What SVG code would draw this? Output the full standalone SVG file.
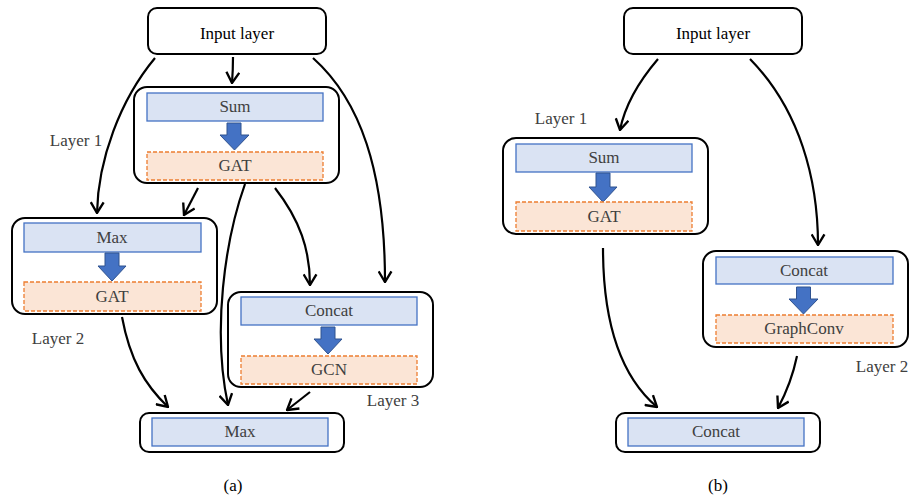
<svg xmlns="http://www.w3.org/2000/svg" width="909" height="498" viewBox="0 0 909 498">
<style>
text{font-family:'Liberation Serif','DejaVu Serif','Times New Roman',serif;font-size:17px;text-anchor:middle}
.c{fill:#fff;stroke:#000;stroke-width:2}
.b{fill:#DAE3F3;stroke:#4472C4;stroke-width:1.3}
.o{fill:#FBE5D6;stroke:#ED7D31;stroke-width:1.3;stroke-dasharray:4 2}
.ar{fill:#4472C4;stroke:#2F528F;stroke-width:1}
.t{fill:#404040}
.k{fill:#000}
.e{fill:none;stroke:#000;stroke-width:2.2;marker-end:url(#h)}
</style>
<defs>
<marker id="h" markerUnits="userSpaceOnUse" viewBox="0 0 12 14" refX="11" refY="7" markerWidth="13" markerHeight="15" orient="auto">
<path d="M1,1 L11,7 L1,13" fill="none" stroke="#000" stroke-width="2.2"/>
</marker>
</defs>
<g id="a-input"><rect class="c" x="148" y="8" width="178" height="46" rx="9"/><text class="k" x="237" y="39" font-family="Liberation Serif, serif">Input layer</text></g>
<g id="a-layer1"><rect class="c" x="134" y="87" width="205" height="96" rx="13"/>
<rect class="b" x="147" y="93" width="176" height="28"/><text class="t" x="235" y="112">Sum</text>
<polygon class="ar" points="227,123 241,123 241,135 249,135 234.5,150 220,135 227,135"/>
<rect class="o" x="147" y="152" width="176" height="28"/><text class="t" x="235" y="171">GAT</text></g>
<g id="a-layer2"><rect class="c" x="12" y="218" width="205" height="96" rx="13"/>
<rect class="b" x="24" y="223" width="177" height="29"/><text class="t" x="112" y="243">Max</text>
<polygon class="ar" points="105,253 119,253 119,266 126,266 112,281 98,266 105,266"/>
<rect class="o" x="24" y="282" width="177" height="29"/><text class="t" x="112" y="302">GAT</text></g>
<g id="a-layer3"><rect class="c" x="228" y="292" width="205" height="95" rx="13"/>
<rect class="b" x="241" y="297" width="176" height="28"/><text class="t" x="329" y="316">Concat</text>
<polygon class="ar" points="321,327 335,327 335,339 342,339 328,354 314,339 321,339"/>
<rect class="o" x="241" y="356" width="176" height="28"/><text class="t" x="329" y="375">GCN</text></g>
<g id="a-out"><rect class="c" x="140" y="413" width="204" height="39" rx="9"/>
<rect class="b" x="152" y="418" width="176" height="28"/><text class="t" x="240" y="437">Max</text></g>
<g id="b-input"><rect class="c" x="624" y="8" width="178" height="46" rx="9"/><text class="k" x="713" y="39">Input layer</text></g>
<g id="b-layer1"><rect class="c" x="503" y="138" width="205" height="96" rx="13"/>
<rect class="b" x="516" y="144" width="176" height="28"/><text class="t" x="604" y="163">Sum</text>
<polygon class="ar" points="596,173 610,173 610,187 617,187 603,202 589,187 596,187"/>
<rect class="o" x="516" y="202" width="176" height="29"/><text class="t" x="604" y="222">GAT</text></g>
<g id="b-layer2"><rect class="c" x="703" y="251" width="205" height="96" rx="13"/>
<rect class="b" x="716" y="257" width="177" height="27"/><text class="t" x="804" y="276">Concat</text>
<polygon class="ar" points="796.5,287 810.5,287 810.5,299 818,299 803.5,314 789,299 796.5,299"/>
<rect class="o" x="716" y="315" width="177" height="28"/><text class="t" x="804" y="334">GraphConv</text></g>
<g id="b-out"><rect class="c" x="616" y="413" width="204" height="39" rx="9"/>
<rect class="b" x="628" y="418" width="176" height="28"/><text class="t" x="716" y="437">Concat</text></g>
<g id="labels">
<text class="t" x="76" y="146">Layer 1</text>
<text class="t" x="58" y="344">Layer 2</text>
<text class="t" x="393" y="406">Layer 3</text>
<text class="t" x="561" y="124">Layer 1</text>
<text class="t" x="882" y="372">Layer 2</text>
<text class="k" x="233" y="491">(a)</text>
<text class="k" x="718" y="491">(b)</text>
</g>
<g id="connectors">
<path class="e" d="M155,58 C120,100 98,160 97,213"/>
<path class="e" d="M233,57 Q233,70 232,83"/>
<path class="e" d="M313,58 C360,100 385,170 385,282"/>
<path class="e" d="M198,188 L184,215"/>
<path class="e" d="M245,184 C225,240 212,330 228,405"/>
<path class="e" d="M275,188 C300,220 310,250 310,285"/>
<path class="e" d="M122,317 C130,360 145,385 168,407"/>
<path class="e" d="M310,392 L287,410"/>
<path class="e" d="M658,59 C640,80 625,105 620,130"/>
<path class="e" d="M750,59 C800,110 818,180 818,245"/>
<path class="e" d="M603,248 C603,330 625,380 657,407"/>
<path class="e" d="M797,356 C792,380 785,395 778,408"/>
</g>
</svg>
